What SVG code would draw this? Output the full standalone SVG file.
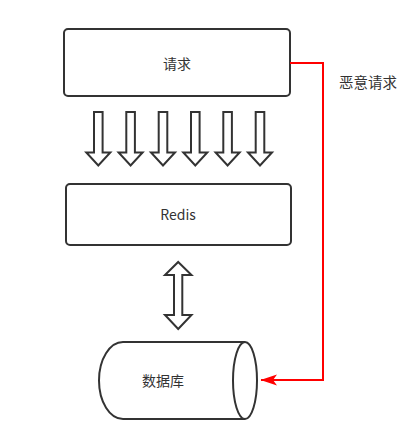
<svg xmlns="http://www.w3.org/2000/svg" width="409" height="441" viewBox="0 0 409 441">
<defs>
<style>
.box{fill:#fff;stroke:#333;stroke-width:2}
.arr{fill:#fff;stroke:#333;stroke-width:2;stroke-linejoin:miter}
.t{font-family:"Microsoft YaHei","Noto Sans CJK SC",sans-serif;font-size:14px;fill:#333;text-anchor:middle;dominant-baseline:central}
</style>
<marker id="ah" markerWidth="17" markerHeight="12" viewBox="0 0 17 12" refX="16" refY="6" orient="auto" markerUnits="userSpaceOnUse">
<path d="M0,0.5 L16.5,6 L0,11.5 L4,6 Z" fill="#f00" transform="rotate(0)"/>
</marker>
<path id="down" d="M-4.3,0 H4.3 V40.5 H12 L0,53.5 L-12,40.5 H-4.3 Z"/>
</defs>
<rect width="409" height="441" fill="#fff"/>
<g id="request">
<rect class="box" x="64" y="29" width="226" height="67" rx="4"/>
<text class="t" x="177" y="62.5">请求</text>
</g>
<g id="redis">
<rect class="box" x="66" y="184" width="225" height="61" rx="4"/>
<text class="t" x="178" y="214">Redis</text>
</g>
<g id="database">
<path class="box" d="M245,342 H123 A24,38.5 0 0 0 123,419 H245"/>
<ellipse class="box" cx="245" cy="380.5" rx="12" ry="38.5"/>
<text class="t" x="163" y="380">数据库</text>
</g>
<g id="connectors">
<g class="arr">
<use href="#down" x="98.3" y="112"/>
<use href="#down" x="130.6" y="112"/>
<use href="#down" x="163" y="112"/>
<use href="#down" x="195.3" y="112"/>
<use href="#down" x="227.6" y="112"/>
<use href="#down" x="260" y="112"/>
</g>
<path class="arr" d="M178.2,262 L191.5,275 H182.3 V315 H191.5 L178.2,329 L165,315 H174 V275 H165 Z"/>
<polyline points="290,63 323,63 323,380 261,380" fill="none" stroke="#f00" stroke-width="2" marker-end="url(#ah)"/>
<text class="t" x="368" y="81" style="font-size:14.5px">恶意请求</text>
</g>
</svg>
